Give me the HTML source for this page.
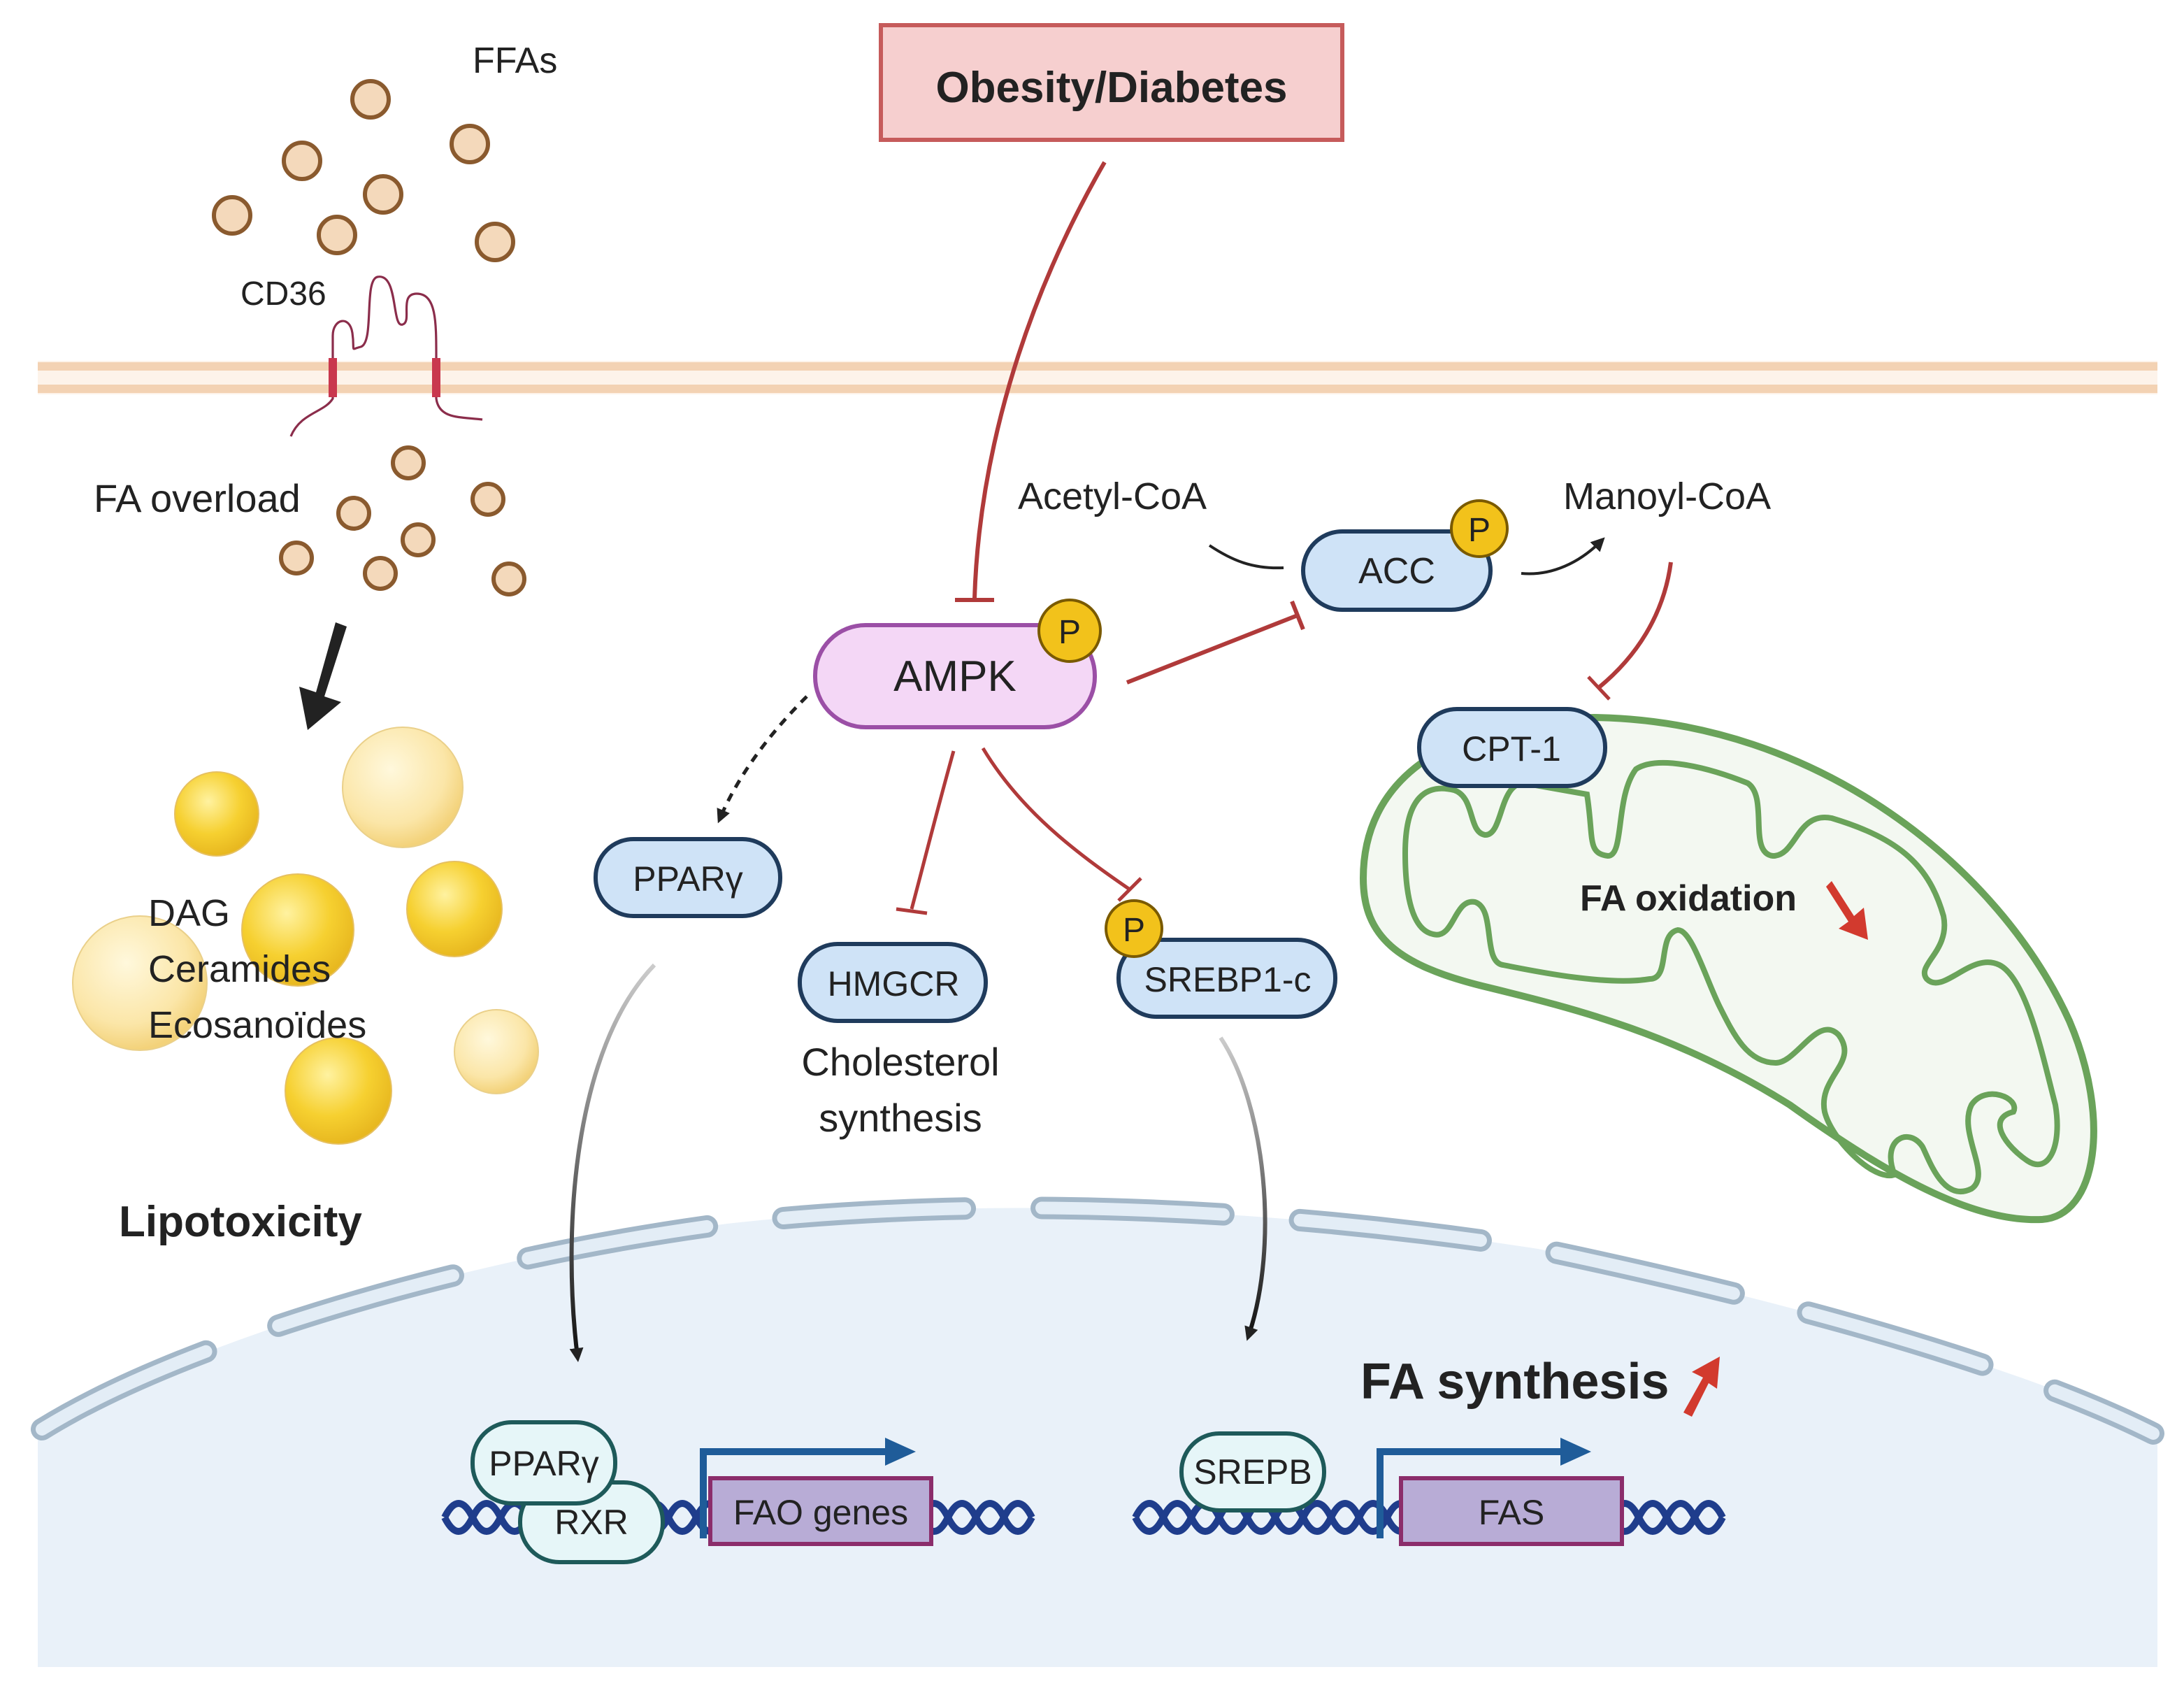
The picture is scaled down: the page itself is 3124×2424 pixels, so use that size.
<!DOCTYPE html>
<html><head><meta charset="utf-8"><style>
html,body{margin:0;padding:0;background:#fff;overflow:hidden}
svg{display:block}
text{font-family:"Liberation Sans",sans-serif;fill:#222}
</style></head><body>
<svg width="3124" height="2424" viewBox="0 0 1562 1212" xmlns="http://www.w3.org/2000/svg">
<defs>
<marker id="ab" markerWidth="10" markerHeight="10" refX="6" refY="5" orient="auto" markerUnits="userSpaceOnUse"><path d="M0,0 L10,5 L0,10 Z" fill="#222"/></marker>
<radialGradient id="ly" cx="40%" cy="35%" r="65%"><stop offset="0" stop-color="#fff2a0"/><stop offset="0.6" stop-color="#f6d030"/><stop offset="1" stop-color="#e8b820"/></radialGradient>
<radialGradient id="lp" cx="40%" cy="35%" r="65%"><stop offset="0" stop-color="#fff8dc"/><stop offset="0.7" stop-color="#fbe6a8"/><stop offset="1" stop-color="#f3d27a"/></radialGradient>
<linearGradient id="gl" x1="0" y1="0" x2="0" y2="1"><stop offset="0" stop-color="#ccc"/><stop offset="1" stop-color="#111"/></linearGradient>
</defs>

<!-- nucleus -->
<path d="M27,1025 C130,960 330,900 520,875 C700,855 900,862 1100,893 C1300,935 1450,980 1543,1025 L1543,1192 L27,1192 Z" fill="#e9f1f9"/>
<g fill="none" stroke-linecap="round">
<path d="M30,1022 C130,960 330,900 520,875 C700,855 900,862 1100,893 C1300,935 1450,980 1540,1025" stroke="#a3b7c8" stroke-width="16" stroke-dasharray="130 55"/>
<path d="M30,1022 C130,960 330,900 520,875 C700,855 900,862 1100,893 C1300,935 1450,980 1540,1025" stroke="#e3edf6" stroke-width="9" stroke-dasharray="130 55"/>
</g>

<!-- membrane -->
<rect x="27" y="258" width="1516" height="24" fill="#fdf3ea"/>
<rect x="27" y="259" width="1516" height="6" fill="#f3d2b3"/>
<rect x="27" y="275" width="1516" height="6" fill="#f3d2b3"/>

<!-- CD36 -->
<g fill="none" stroke="#8b2d4b" stroke-width="1.6">
<path d="M208,312 C215,295 232,295 238,285 L238,240 C238,228 250,225 252,238 C254,252 250,250 258,248 C268,245 260,200 270,198 C285,195 280,235 288,232 C295,230 285,210 298,210 C312,210 312,230 312,255 L312,285 C314,300 330,298 345,300"/>
</g>
<rect x="235" y="256" width="6" height="28" fill="#c9384e"/>
<rect x="309" y="256" width="6" height="28" fill="#c9384e"/>
<text x="172" y="218" font-size="24">CD36</text>

<!-- FFAs -->
<text x="338" y="52" font-size="26">FFAs</text>
<g fill="#f4d9bb" stroke="#8a5a2e" stroke-width="3">
<circle cx="265" cy="71" r="13"/><circle cx="336" cy="103" r="13"/><circle cx="216" cy="115" r="13"/>
<circle cx="274" cy="139" r="13"/><circle cx="166" cy="154" r="13"/><circle cx="241" cy="168" r="13"/>
<circle cx="354" cy="173" r="13"/>
<circle cx="292" cy="331" r="11"/><circle cx="349" cy="357" r="11"/><circle cx="253" cy="367" r="11"/>
<circle cx="299" cy="386" r="11"/><circle cx="212" cy="399" r="11"/><circle cx="272" cy="410" r="11"/>
<circle cx="364" cy="414" r="11"/>
</g>
<text x="67" y="366" font-size="28">FA overload</text>

<!-- big black arrow -->
<path d="M248,448 L232,498 L244,502 L220,522 L214,491 L226,495 L240,445 Z" fill="#222"/>

<!-- lipid droplets -->
<circle cx="155" cy="582" r="30" fill="url(#ly)" stroke="#e6c060" stroke-width="1"/>
<circle cx="288" cy="563" r="43" fill="url(#lp)" stroke="#ead08a" stroke-width="1"/>
<circle cx="325" cy="650" r="34" fill="url(#ly)" stroke="#e6c060" stroke-width="1"/>
<circle cx="100" cy="703" r="48" fill="url(#lp)" stroke="#ead08a" stroke-width="1"/>
<circle cx="213" cy="665" r="40" fill="url(#ly)" stroke="#e6c060" stroke-width="1"/>
<circle cx="355" cy="752" r="30" fill="url(#lp)" stroke="#ead08a" stroke-width="1"/>
<circle cx="242" cy="780" r="38" fill="url(#ly)" stroke="#e6c060" stroke-width="1"/>
<text x="106" y="662" font-size="27">DAG</text>
<text x="106" y="702" font-size="27">Ceramides</text>
<text x="106" y="742" font-size="27">Ecosanoïdes</text>
<text x="85" y="884" font-size="31" font-weight="bold">Lipotoxicity</text>

<!-- Obesity box -->
<rect x="630" y="18" width="330" height="82" fill="#f6cfcf" stroke="#c65b5b" stroke-width="3"/>
<text x="795" y="73" font-size="31" font-weight="bold" text-anchor="middle">Obesity/Diabetes</text>

<!-- red connectors -->
<g fill="none" stroke="#b03a3a" stroke-width="3">
<path d="M790,116 C730,220 700,330 697,428"/>
<path d="M683,429 L711,429"/>
<path d="M806,488 L928,440"/>
<path d="M924,430 L932,450"/>
<path d="M1195,402 C1190,440 1170,470 1143,492"/>
<path d="M1136,484 L1151,500" stroke-width="2.5"/>
<path d="M682,537 C670,580 660,620 652,650" stroke-width="2.5"/>
<path d="M641,650 L663,653" stroke-width="2.5"/>
<path d="M703,535 C730,580 770,610 808,636" stroke-width="2.5"/>
<path d="M800,644 L816,628" stroke-width="2.5"/>
</g>
<path d="M577,498 C555,520 530,550 515,585" fill="none" stroke="#222" stroke-width="2.5" stroke-dasharray="6 5" marker-end="url(#ab)"/>

<!-- black connectors -->
<path d="M865,390 C880,400 895,407 918,406" fill="none" stroke="#222" stroke-width="2"/>
<path d="M1088,410 C1110,412 1130,402 1145,387" fill="none" stroke="#222" stroke-width="2" marker-end="url(#ab)"/>
<path d="M1100,575 C1102,600 1108,615 1118,625" fill="none" stroke="#222" stroke-width="1.8" marker-end="url(#ab)"/>
<path d="M468,690 C410,750 402,880 413,970" fill="none" stroke="url(#gl)" stroke-width="3" marker-end="url(#ab)"/>
<path d="M873,742 C905,790 915,890 893,955" fill="none" stroke="url(#gl)" stroke-width="3" marker-end="url(#ab)"/>

<text x="728" y="364" font-size="27">Acetyl-CoA</text>
<text x="1118" y="364" font-size="27">Manoyl-CoA</text>

<!-- mitochondria -->
<path d="M975,628 C975,560 1030,515 1140,513 C1300,515 1430,620 1480,730 C1510,800 1500,870 1460,872 C1410,874 1350,840 1280,790 C1200,740 1130,722 1060,705 C1000,690 975,670 975,628 Z" fill="#f3f8f1" stroke="#6aa35a" stroke-width="5"/>
<path d="M1005,610 C1005,570 1020,560 1040,565 C1055,570 1050,595 1062,597 C1075,598 1072,560 1090,560 L1135,568 C1140,600 1135,610 1150,612 C1162,612 1155,570 1170,550 C1185,540 1220,548 1250,560 C1265,570 1250,610 1268,612 C1285,612 1285,580 1310,585 C1360,600 1380,620 1390,655 C1395,680 1370,690 1378,700 C1390,712 1410,680 1430,690 C1450,700 1462,760 1470,790 C1475,820 1465,840 1450,830 C1435,820 1420,800 1440,795 C1445,785 1420,775 1410,790 C1400,810 1425,840 1410,850 C1390,860 1380,830 1375,820 C1365,805 1345,815 1355,840 C1340,845 1310,815 1305,795 C1300,770 1330,760 1315,740 C1300,725 1285,760 1270,760 C1250,760 1240,740 1230,720 C1220,700 1210,665 1200,665 C1185,668 1195,700 1180,700 C1150,705 1100,695 1075,690 C1060,688 1070,650 1055,645 C1040,642 1040,672 1025,668 C1010,665 1005,640 1005,610 Z" fill="none" stroke="#6aa35a" stroke-width="4"/>
<text x="1130" y="651" font-size="26" font-weight="bold">FA oxidation</text>
<path d="M1310,630 L1326,655 L1333,649 L1336,672 L1315,664 L1322,659 L1306,634 Z" fill="#d23a2e"/>

<!-- nodes -->
<g stroke-width="3">
<rect x="583" y="447" width="200" height="73" rx="36" fill="#f4d7f6" stroke="#9b4fa6"/>
<rect x="932" y="380" width="134" height="56" rx="28" fill="#cfe3f7" stroke="#1f3b5c"/>
<rect x="426" y="600" width="132" height="55" rx="27" fill="#cfe3f7" stroke="#1f3b5c"/>
<rect x="572" y="675" width="133" height="55" rx="27" fill="#cfe3f7" stroke="#1f3b5c"/>
<rect x="800" y="672" width="155" height="55" rx="27" fill="#cfe3f7" stroke="#1f3b5c"/>
<rect x="1015" y="507" width="133" height="55" rx="27" fill="#cfe3f7" stroke="#1f3b5c"/>
</g>
<g fill="#f2c21b" stroke="#7a5a00" stroke-width="2">
<circle cx="765" cy="451" r="22"/><circle cx="1058" cy="378" r="20"/><circle cx="811" cy="664" r="20"/>
</g>
<text x="765" y="460" font-size="24" text-anchor="middle">P</text>
<text x="1058" y="387" font-size="24" text-anchor="middle">P</text>
<text x="811" y="673" font-size="24" text-anchor="middle">P</text>
<text x="683" y="494" font-size="31" text-anchor="middle">AMPK</text>
<text x="999" y="417" font-size="26" text-anchor="middle">ACC</text>
<text x="492" y="637" font-size="25" text-anchor="middle">PPARγ</text>
<text x="639" y="712" font-size="25" text-anchor="middle">HMGCR</text>
<text x="878" y="709" font-size="25" text-anchor="middle">SREBP1-c</text>
<text x="1081" y="544" font-size="25" text-anchor="middle">CPT-1</text>
<text x="644" y="769" font-size="28" text-anchor="middle">Cholesterol</text>
<text x="644" y="809" font-size="28" text-anchor="middle">synthesis</text>

<!-- FA synthesis -->
<text x="973" y="1000" font-size="36" font-weight="bold">FA synthesis</text>
<path d="M1204,1010 L1218,985 L1210,981 L1230,970 L1228,993 L1222,989 L1210,1013 Z" fill="#d23a2e"/>

<!-- DNA -->
<g fill="none" stroke="#1f3d8c" stroke-width="5">
<path d="M318,1085 q10,-20 20,0 q10,20 20,0 q10,-20 20,0 q10,20 20,0 q10,-20 20,0 q10,20 20,0 q10,-20 20,0 q10,20 20,0 q10,-20 20,0 q10,20 20,0 q10,-20 20,0 q10,20 20,0 q10,-20 20,0 q10,20 20,0 q10,-20 20,0 q10,20 20,0 q10,-20 20,0 q10,20 20,0 q10,-20 20,0 q10,20 20,0 q10,-20 20,0"/>
<path d="M318,1085 q10,20 20,0 q10,-20 20,0 q10,20 20,0 q10,-20 20,0 q10,20 20,0 q10,-20 20,0 q10,20 20,0 q10,-20 20,0 q10,20 20,0 q10,-20 20,0 q10,20 20,0 q10,-20 20,0 q10,20 20,0 q10,-20 20,0 q10,20 20,0 q10,-20 20,0 q10,20 20,0 q10,-20 20,0 q10,20 20,0 q10,-20 20,0 q10,20 20,0"/>
<path d="M812,1085 q10,-20 20,0 q10,20 20,0 q10,-20 20,0 q10,20 20,0 q10,-20 20,0 q10,20 20,0 q10,-20 20,0 q10,20 20,0 q10,-20 20,0 q10,20 20,0 q10,-20 20,0 q10,20 20,0 q10,-20 20,0 q10,20 20,0 q10,-20 20,0 q10,20 20,0 q10,-20 20,0 q10,20 20,0 q10,-20 20,0 q10,20 20,0 q10,-20 20,0"/>
<path d="M812,1085 q10,20 20,0 q10,-20 20,0 q10,20 20,0 q10,-20 20,0 q10,20 20,0 q10,-20 20,0 q10,20 20,0 q10,-20 20,0 q10,20 20,0 q10,-20 20,0 q10,20 20,0 q10,-20 20,0 q10,20 20,0 q10,-20 20,0 q10,20 20,0 q10,-20 20,0 q10,20 20,0 q10,-20 20,0 q10,20 20,0 q10,-20 20,0 q10,20 20,0"/>
</g>
<!-- promoter arrows -->
<path d="M503,1100 L503,1038 L635,1038" fill="none" stroke="#1f5c99" stroke-width="5"/>
<path d="M633,1028 L655,1038 L633,1048 Z" fill="#1f5c99"/>
<path d="M987,1100 L987,1038 L1118,1038" fill="none" stroke="#1f5c99" stroke-width="5"/>
<path d="M1116,1028 L1138,1038 L1116,1048 Z" fill="#1f5c99"/>
<rect x="508" y="1057" width="158" height="47" fill="#b8acd6" stroke="#8b2d6b" stroke-width="3"/>
<rect x="1002" y="1057" width="158" height="47" fill="#b8acd6" stroke="#8b2d6b" stroke-width="3"/>
<text x="587" y="1090" font-size="25" text-anchor="middle">FAO genes</text>
<text x="1081" y="1090" font-size="25" text-anchor="middle">FAS</text>
<g fill="#e6f6f8" stroke="#1e5a5a" stroke-width="3">
<rect x="372" y="1060" width="102" height="57" rx="28"/>
<rect x="338" y="1017" width="102" height="58" rx="28"/>
<rect x="845" y="1025" width="102" height="55" rx="27"/>
</g>
<text x="389" y="1055" font-size="25" text-anchor="middle">PPARγ</text>
<text x="423" y="1097" font-size="25" text-anchor="middle">RXR</text>
<text x="896" y="1061" font-size="25" text-anchor="middle">SREPB</text>
</svg>
</body></html>
